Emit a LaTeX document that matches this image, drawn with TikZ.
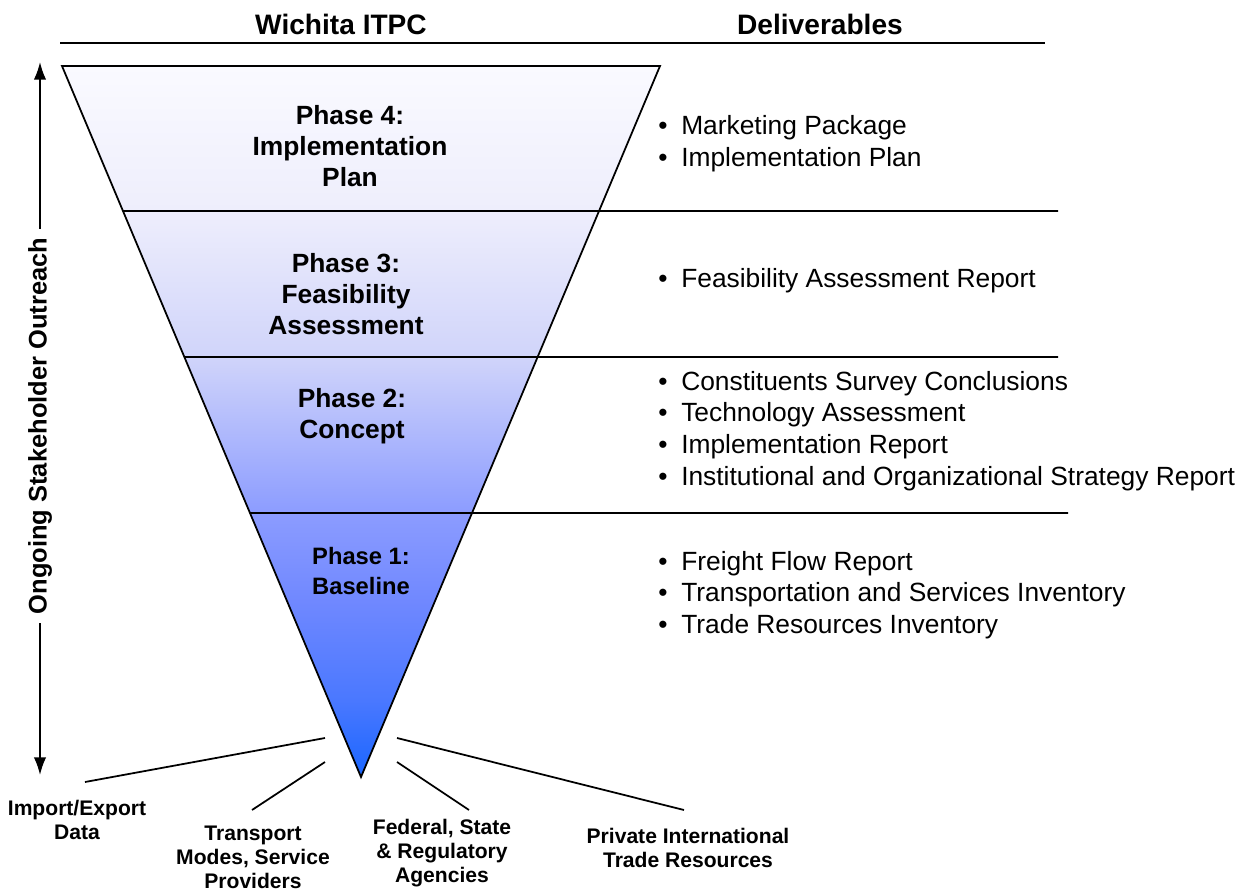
\documentclass[tikz,border=0pt]{standalone}
\usepackage{fontspec}
\setmainfont{Liberation Sans}
\usetikzlibrary{arrows.meta,calc}

\definecolor{fun0}{RGB}{26,102,255}
\definecolor{fun1}{RGB}{74,120,255}
\definecolor{fun2}{RGB}{112,136,255}
\definecolor{fun3}{RGB}{140,156,255}
\definecolor{fun4}{RGB}{208,212,250}
\definecolor{fun5}{RGB}{238,238,252}
\definecolor{fun6}{RGB}{250,250,255}
\pgfdeclareverticalshading{funnel}{100bp}{color(0bp)=(fun0); color(25bp)=(fun0);
  color(30.4bp)=(fun1); color(37.4bp)=(fun2); color(43.6bp)=(fun3);
  color(54.5bp)=(fun4); color(64.8bp)=(fun5); color(75bp)=(fun6); color(100bp)=(fun6)}

\newcommand{\itm}{\makebox[0.87em][l]{\textbullet}}

\begin{document}
\begin{tikzpicture}[x=0.02cm,y=-0.02cm,
  head/.style={font=\bfseries\fontsize{16}{19}\selectfont},
  phase/.style={font=\bfseries\fontsize{15}{17.6}\selectfont,align=center},
  deliv/.style={font=\fontsize{15}{18.1}\selectfont,align=left,anchor=west,inner sep=0pt},
  source/.style={font=\bfseries\fontsize{12}{13.6}\selectfont,align=center},
  rule/.style={line width=1pt}]
\useasboundingbox (0,0) rectangle (1246,892);

% column heads
\node[head] (itpc) at (341,24) {Wichita ITPC};
\node[head] (dlv) at (820,24) {Deliverables};
\draw[rule] (60,43) -- (1045,43);

% funnel
\coordinate (tl) at (62,66);
\coordinate (tr) at (660,66);
\coordinate (tip) at (361,777);
\shade[shading=funnel,draw,rule] (tl) -- (tr) -- (tip) -- cycle;
\foreach \y/\xe in {211/1058,357/1058,513/1068}
  \draw[rule] ($(tl)!{(\y-66)/711}!(tip)$) -- (\xe,\y);

% phases
\node[phase] (p4) at (350,146) {Phase 4:\\Implementation\\Plan};
\node[phase] (p3) at (346,294) {Phase 3:\\Feasibility\\Assessment};
\node[phase] (p2) at (352,416) {Phase 2:\\Concept};
\node[phase,font=\bfseries\fontsize{13.5}{17.6}\selectfont] (p1) at (361,571) {Phase 1:\\Baseline};

% deliverables
\node[deliv] (d4) at (658,144) {\itm Marketing Package\\\itm Implementation Plan};
\node[deliv] (d3) at (658,281) {\itm Feasibility Assessment Report};
\node[deliv] (d2) at (658,431) {\itm Constituents Survey Conclusions\\\itm Technology Assessment\\
  \itm Implementation Report\\\itm Institutional and Organizational Strategy Report};
\node[deliv] (d1) at (658,595) {\itm Freight Flow Report\\\itm Transportation and Services Inventory\\
  \itm Trade Resources Inventory};

% outreach arrow
\coordinate (otop) at (40,62);
\coordinate (obot) at (40,775);
\draw[rule,{Latex[length=10pt,width=7pt]}-{Latex[length=10pt,width=7pt]}] (otop) -- (obot);
\node[phase,font=\bfseries\fontsize{14.5}{17}\selectfont,rotate=90,fill=white,inner sep=5pt]
  (outreach) at (40,426) {Ongoing Stakeholder Outreach};

% inputs at the tip
\node[source] (imp) at (77,820) {Import/Export\\Data};
\node[source] (trn) at (253,857) {Transport\\Modes, Service\\Providers};
\node[source] (fed) at (442,853) {Federal, State\\\& Regulatory\\Agencies};
\node[source] (prv) at (688,848) {Private International\\Trade Resources};
\coordinate (s1) at (325,738); \coordinate (e1) at (85,782);
\coordinate (s2) at (325,762); \coordinate (e2) at (252,810);
\coordinate (s3) at (397,762); \coordinate (e3) at (469,810);
\coordinate (s4) at (397,738); \coordinate (e4) at (684,810);
\foreach \i in {1,...,4}
  \draw[rule] (s\i) -- (e\i);
\end{tikzpicture}
\end{document}
